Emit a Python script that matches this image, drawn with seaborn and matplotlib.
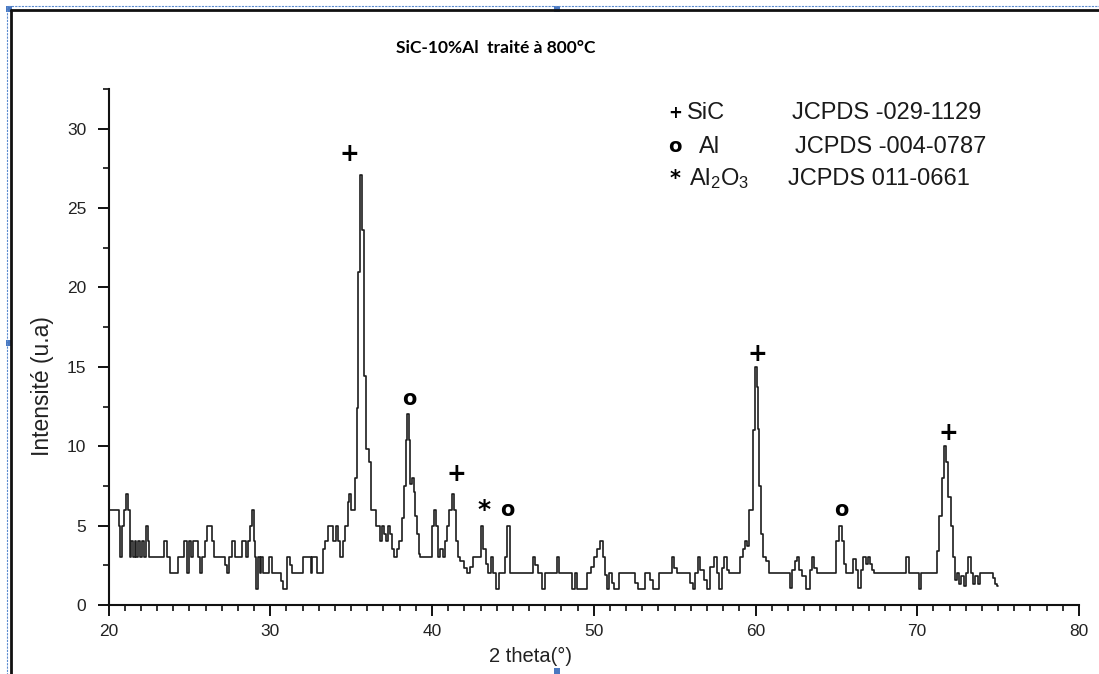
import matplotlib
matplotlib.use("Agg")
import matplotlib.pyplot as plt
from matplotlib.lines import Line2D
from matplotlib.patches import Rectangle
from matplotlib.ticker import MultipleLocator
import pandas as pd
import seaborn as sns

# XRD pattern of SiC-10%Al annealed at 800 °C (2-theta in degrees, intensity in a.u.)
two_theta = [
    20.00, 20.58, 20.66, 20.78, 20.91, 21.03, 21.15, 21.28, 21.36, 21.46,
    21.56, 21.69, 21.77, 21.89, 22.02, 22.14, 22.24, 22.37, 22.47, 22.59,
    23.37, 23.54, 23.72, 23.89, 24.20, 24.36, 24.57, 24.75, 24.90, 25.02,
    25.19, 25.31, 25.47, 25.60, 25.72, 25.88, 26.05, 26.19, 26.30, 26.44,
    26.60, 27.12, 27.26, 27.39, 27.57, 27.74, 27.94, 28.15, 28.40, 28.56,
    28.70, 28.81, 28.93, 29.03, 29.09, 29.18, 29.30, 29.38, 29.51, 29.63,
    29.90, 30.00, 30.16, 30.62, 30.72, 30.86, 30.99, 31.13, 31.28, 31.40,
    31.95, 32.10, 32.43, 32.55, 32.67, 32.84, 32.98, 33.19, 33.33, 33.50,
    33.66, 33.81, 33.95, 34.12, 34.24, 34.42, 34.57, 34.73, 34.84, 34.94,
    35.06, 35.19, 35.31, 35.40, 35.50, 35.62, 35.75, 35.88, 36.02, 36.15,
    36.30, 36.45, 36.60, 36.75, 36.85, 36.95, 37.10, 37.25, 37.35, 37.50,
    37.60, 37.75, 37.90, 38.05, 38.20, 38.32, 38.42, 38.52, 38.62, 38.72,
    38.82, 38.92, 39.02, 39.12, 39.22, 39.35, 39.95, 40.08, 40.20, 40.32,
    40.45, 40.60, 40.72, 40.85, 41.00, 41.15, 41.30, 41.42, 41.52, 41.64,
    41.85, 42.05, 42.26, 42.46, 42.67, 42.94, 43.08, 43.23, 43.39, 43.56,
    43.70, 43.85, 44.05, 44.22, 44.42, 44.59, 44.73, 44.88, 46.18, 46.28,
    46.44, 46.65, 46.90, 47.06, 47.62, 47.78, 47.93, 48.55, 48.75, 48.92,
    49.06, 49.47, 49.68, 49.95, 50.09, 50.30, 50.50, 50.62, 50.72, 50.80,
    50.89, 51.03, 51.18, 51.34, 51.51, 51.65, 52.47, 52.68, 52.78, 53.09,
    53.30, 53.40, 53.57, 53.71, 53.92, 54.12, 54.74, 54.89, 55.05, 55.26,
    55.88, 56.04, 56.19, 56.39, 56.49, 56.70, 56.91, 57.11, 57.32, 57.53,
    57.69, 57.84, 57.98, 58.14, 58.31, 58.45, 58.97, 59.13, 59.28, 59.42,
    59.55, 59.68, 59.80, 59.90, 60.04, 60.10, 60.16, 60.31, 60.41, 60.57,
    60.78, 60.92, 62.04, 62.20, 62.35, 62.49, 62.61, 62.76, 62.96, 63.27,
    63.43, 63.57, 63.71, 63.88, 64.90, 65.10, 65.27, 65.41, 65.51, 65.67,
    65.92, 66.12, 66.29, 66.43, 66.57, 66.73, 66.90, 67.04, 67.14, 67.24,
    67.39, 69.18, 69.39, 69.55, 70.00, 70.16, 70.31, 71.12, 71.29, 71.43,
    71.59, 71.73, 71.84, 71.98, 72.14, 72.29, 72.41, 72.55, 72.65, 72.82,
    72.96, 73.06, 73.22, 73.37, 73.51, 73.67, 73.84, 73.98, 74.59, 74.73,
    74.90, 75.00,
]
intensity = [
    6, 6, 5, 3, 5, 6, 7, 6, 3, 4,
    3, 4, 3, 4, 3, 4, 3, 5, 4, 3,
    3, 4, 3, 2, 2, 3, 3, 4, 2, 4,
    3, 4, 4, 3, 2, 3, 4, 5, 5, 4,
    3, 3, 2.5, 2, 3, 4, 3, 3, 4, 3,
    4, 5, 6, 4, 3, 1, 3, 2, 3, 2,
    2, 3, 2, 2, 1.5, 1, 1, 3, 2.5, 2,
    2, 3, 3, 2, 3, 3, 2, 2, 3.5, 4,
    5, 5, 4, 5, 4, 3, 4, 5, 6.5, 7,
    6, 6, 8, 12.4, 21, 27.1, 23.6, 14.4, 9.8, 9,
    6, 6, 5, 5, 4, 5, 4.5, 4, 5, 4.5,
    3.5, 3, 3.5, 4, 5.5, 7.5, 10.4, 12, 10.4, 7.6,
    8, 7.1, 5.6, 4.5, 3.2, 3, 3, 5, 6, 5,
    3, 3.5, 3, 4, 5, 6, 7, 6, 4, 3,
    2.8, 2.3, 2, 2.4, 3, 3, 5, 3.5, 2.6, 2,
    3, 2, 1, 2, 2, 3, 5, 2, 2, 3,
    2.5, 2, 1, 2, 2, 3, 2, 2, 1, 2,
    1, 1, 2, 2.4, 3, 3.5, 4, 3, 1.9, 1.9,
    1, 2, 1.4, 1, 1, 2, 2, 1.4, 1, 1,
    2, 2, 1.6, 1, 1, 2, 2, 3, 2.3, 2,
    2, 1.4, 1, 2, 3, 2.2, 1.6, 1, 2.4, 3,
    2, 1, 2.3, 3, 2.2, 2, 2, 3, 3.5, 4,
    3.7, 6, 6, 11, 15, 13.7, 11.1, 7.5, 4.5, 3,
    2.8, 2, 2, 1.1, 2.2, 2.8, 3, 2.2, 1.8, 1,
    2.2, 3, 2.3, 2, 2, 4, 5, 4, 2.6, 2,
    2, 2.9, 2.2, 1.1, 2.2, 3, 2.6, 3, 2.6, 2.2,
    2, 2, 3, 2, 2, 1, 2, 2, 3.4, 5.6,
    8, 10, 9, 6.8, 5, 3, 1.6, 2, 1.3, 1.8,
    1.2, 2, 3, 2, 1.3, 1.8, 1.3, 2, 2, 1.7,
    1.3, 1.2,
]

# Phase identification marks above the peaks
peak_symbols = ["+", "o", "+", "*", "o", "+", "o", "+"]
peak_x = [34.87, 38.58, 41.49, 43.22, 44.64, 60.10, 65.30, 71.91]
peak_y = [28.4, 13.0, 8.25, 6.0, 6.0, 15.8, 6.0, 10.84]

# Reference cards
phase_symbols = ["+", "o", "*"]
phase_names = ["SiC", "Al", "Al$_2$O$_3$"]
phase_cards = ["JCPDS -029-1129", "JCPDS -004-0787", "JCPDS 011-0661"]

title_text = "SiC-10%Al  traité à 800°C"
x_label = "2 theta(°)"
y_label = "Intensité (u.a)"

W, H = 1099, 674

sns.set_theme(style="white")
plt.rcParams["font.family"] = ["Liberation Sans", "DejaVu Sans"]
plt.rcParams["mathtext.default"] = "regular"

df = pd.DataFrame({"two_theta": two_theta, "intensity": intensity})

fig = plt.figure(figsize=(W / 100, H / 100), dpi=100)
fig.patch.set_facecolor("white")


def fx(px):
    return px / W


def fy(py):
    return 1 - py / H


ax = fig.add_axes([fx(108.5), fy(605), (1079 - 108.5) / W, (605 - 89) / H])
ax.set_facecolor("white")

sns.lineplot(data=df, x="two_theta", y="intensity", ax=ax, sort=False,
             estimator=None, color="#1c1c1c", linewidth=1.2,
             drawstyle="steps-mid")

ax.set_xlim(20, 80)
ax.set_ylim(0, 32.5)
ax.xaxis.set_major_locator(MultipleLocator(10))
ax.xaxis.set_minor_locator(MultipleLocator(1))
ax.yaxis.set_major_locator(MultipleLocator(5))
ax.yaxis.set_minor_locator(MultipleLocator(2.5))

for side in ("top", "right"):
    ax.spines[side].set_visible(False)
for side in ("left", "bottom"):
    ax.spines[side].set_color("#111111")
    ax.spines[side].set_linewidth(1.5)

ax.tick_params(axis="both", which="major", direction="out", length=8,
               width=1.4, color="#111111", labelsize=12.5,
               labelcolor="#222222", bottom=True, left=True)
ax.tick_params(axis="both", which="minor", direction="out", length=4.5,
               width=1.2, color="#111111", bottom=True, left=True)
ax.tick_params(axis="x", which="major", pad=6)
ax.tick_params(axis="y", which="major", pad=8)

ax.set_xlabel(x_label, fontsize=14.5, color="#222222")
ax.set_ylabel(y_label, fontsize=16.5, color="#222222")
ax.xaxis.set_label_coords(0.435, -0.081)
ax.yaxis.set_label_coords(-0.056, 0.425)

for sym, xv, yv in zip(peak_symbols, peak_x, peak_y):
    size = {"+": 17, "o": 15, "*": 18}[sym]
    ax.text(xv, yv, sym, ha="center", va="center", fontsize=size,
            fontweight="bold", family="DejaVu Sans", color="black")

# Phase key in the upper right
rows_y = [113, 147, 179]
name_x = [687, 699, 689]
card_x = [792, 795, 788]
for sym, name, card, ry, nx, cx in zip(phase_symbols, phase_names, phase_cards,
                                       rows_y, name_x, card_x):
    size = {"+": 12, "o": 14, "*": 15}[sym]
    fig.text(fx(675), fy(ry), sym, ha="center", va="center", fontsize=size,
             fontweight="bold", family="DejaVu Sans", color="black")
    fig.text(fx(nx), fy(ry), name, ha="left", va="center", fontsize=17,
             color="#1a1a1a")
    fig.text(fx(cx), fy(ry), card, ha="left", va="center", fontsize=17,
             color="#1a1a1a")

fig.text(fx(496), fy(48), title_text, ha="center", va="center", fontsize=12.5,
         fontweight="bold", family=["Lato", "DejaVu Sans"], color="black")

# Frame of the embedded picture
fig.add_artist(Line2D([fx(11), 1], [fy(10), fy(10)], transform=fig.transFigure,
                      color="#111111", lw=2))
fig.add_artist(Line2D([fx(11), fx(11)], [fy(10), 0], transform=fig.transFigure,
                      color="#111111", lw=2))
fig.add_artist(Line2D([fx(8), 1], [fy(6), fy(6)], transform=fig.transFigure,
                      color="#5b8bd0", lw=0.8, ls=(0, (2, 1))))
fig.add_artist(Line2D([fx(7), fx(7)], [fy(6), 0], transform=fig.transFigure,
                      color="#5b8bd0", lw=0.8, ls=(0, (2, 1))))
for hx, hy in [(9, 9), (557, 9), (9, 343), (557, 671)]:
    fig.add_artist(Rectangle((fx(hx - 3), fy(hy + 3)), 6 / W, 6 / H,
                             transform=fig.transFigure, color="#4a78c0",
                             lw=0))

fig.savefig("out.png", dpi=100)
